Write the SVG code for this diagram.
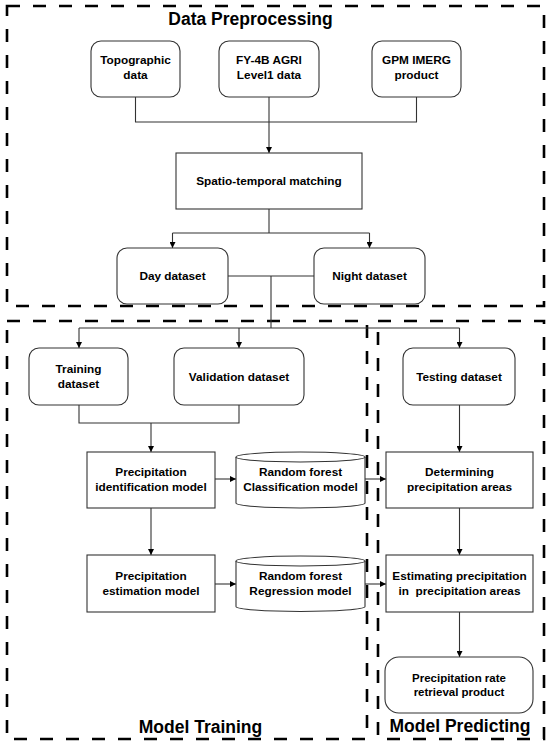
<svg xmlns="http://www.w3.org/2000/svg" width="550" height="747" viewBox="0 0 550 747">
<defs>
<style>
.frame{fill:none;stroke:#000;stroke-width:2.6;stroke-dasharray:13 13}
.box{fill:#fff;stroke:#333;stroke-width:1.1}
.t{font-family:"Liberation Sans",Arial,sans-serif;font-weight:bold;font-size:11.8px;fill:#000;text-anchor:middle}
.title{font-family:"Liberation Sans",Arial,sans-serif;font-weight:bold;font-size:17.5px;fill:#000;text-anchor:middle}
.c{fill:none;stroke:#333;stroke-width:1.1}
</style>
<marker id="ah" viewBox="0 0 10 10" refX="10" refY="5" markerWidth="6" markerHeight="6" markerUnits="userSpaceOnUse" orient="auto">
<path d="M0,0 L10,5 L0,10 z" fill="#000"/>
</marker>
</defs>
<rect width="550" height="747" fill="#fff"/>

<g id="frames">
<rect class="frame" x="7" y="6" width="537" height="300"/>
<rect class="frame" x="7" y="321" width="360" height="418"/>
<rect class="frame" x="378" y="321" width="166" height="418"/>
<text class="title" x="250.5" y="25">Data Preprocessing</text>
<text class="title" x="200.5" y="732.5">Model Training</text>
<text class="title" x="460" y="732">Model Predicting</text>
</g>

<g id="connectors">
<path class="c" d="M135.5,97 V122 H416.5 V97"/>
<path class="c" d="M269,97 V153" marker-end="url(#ah)"/>
<path class="c" d="M269,209 V233"/>
<path class="c" d="M172.5,233 H369.5"/>
<path class="c" d="M172.5,233 V248" marker-end="url(#ah)"/>
<path class="c" d="M369.5,233 V248" marker-end="url(#ah)"/>
<path class="c" d="M228,276 H314"/>
<path class="c" d="M271,276 V328"/>
<path class="c" d="M79,328 H459.5"/>
<path class="c" d="M79,328 V348" marker-end="url(#ah)"/>
<path class="c" d="M239,328 V348" marker-end="url(#ah)"/>
<path class="c" d="M459.5,328 V348" marker-end="url(#ah)"/>
<path class="c" d="M79,405 V423 H239 V405"/>
<path class="c" d="M151,423 V452" marker-end="url(#ah)"/>
<path class="c" d="M459.5,405 V452" marker-end="url(#ah)"/>
<path class="c" d="M215,479 H236" marker-end="url(#ah)"/>
<path class="c" d="M365,479 H386" marker-end="url(#ah)"/>
<path class="c" d="M151,508 V555" marker-end="url(#ah)"/>
<path class="c" d="M459.5,508 V555" marker-end="url(#ah)"/>
<path class="c" d="M215,584 H236" marker-end="url(#ah)"/>
<path class="c" d="M365,584 H386" marker-end="url(#ah)"/>
<path class="c" d="M459.5,612 V657" marker-end="url(#ah)"/>
</g>

<g id="topographic">
<rect class="box" x="91" y="41" width="89" height="56" rx="10"/>
<text class="t" x="135.5" y="64">Topographic</text>
<text class="t" x="135.5" y="79">data</text>
</g>
<g id="fy4b">
<rect class="box" x="219" y="41" width="100" height="56" rx="10"/>
<text class="t" x="269" y="64">FY-4B AGRI</text>
<text class="t" x="269" y="79">Level1 data</text>
</g>
<g id="gpm">
<rect class="box" x="372" y="41" width="89" height="56" rx="10"/>
<text class="t" x="416.5" y="64">GPM IMERG</text>
<text class="t" x="416.5" y="79">product</text>
</g>
<g id="spatio">
<rect class="box" x="176" y="153" width="186" height="56"/>
<text class="t" x="269" y="185">Spatio-temporal matching</text>
</g>
<g id="day">
<rect class="box" x="117" y="248" width="111" height="56" rx="10"/>
<text class="t" x="172.5" y="280">Day dataset</text>
</g>
<g id="night">
<rect class="box" x="314" y="248" width="111" height="56" rx="10"/>
<text class="t" x="369.5" y="280">Night dataset</text>
</g>
<g id="training">
<rect class="box" x="29" y="348" width="99" height="57" rx="10"/>
<text class="t" x="78.5" y="373">Training</text>
<text class="t" x="78.5" y="387.5">dataset</text>
</g>
<g id="validation">
<rect class="box" x="174" y="348" width="130" height="57" rx="10"/>
<text class="t" x="239" y="380.5">Validation dataset</text>
</g>
<g id="testing">
<rect class="box" x="403" y="348" width="112" height="57" rx="10"/>
<text class="t" x="459" y="380.5">Testing dataset</text>
</g>
<g id="precip-id">
<rect class="box" x="87" y="452" width="128" height="56"/>
<text class="t" x="151" y="476">Precipitation</text>
<text class="t" x="151" y="490.5">identification model</text>
</g>
<g id="rf-class">
<path class="box" d="M236,457 V503 A64.5,5 0 0 0 365,503 V457"/>
<ellipse class="box" cx="300.5" cy="457" rx="64.5" ry="5"/>
<text class="t" x="300.5" y="476">Random forest</text>
<text class="t" x="300.5" y="490.5">Classification model</text>
</g>
<g id="determining">
<rect class="box" x="386" y="452" width="147" height="56"/>
<text class="t" x="459.5" y="476">Determining</text>
<text class="t" x="459.5" y="490.5">precipitation areas</text>
</g>
<g id="precip-est">
<rect class="box" x="87" y="555" width="128" height="57"/>
<text class="t" x="151" y="580">Precipitation</text>
<text class="t" x="151" y="594.5">estimation model</text>
</g>
<g id="rf-reg">
<path class="box" d="M236,561 V606.5 A64.5,5 0 0 0 365,606.5 V561"/>
<ellipse class="box" cx="300.5" cy="561" rx="64.5" ry="5"/>
<text class="t" x="300.5" y="580">Random forest</text>
<text class="t" x="300.5" y="594.5">Regression model</text>
</g>
<g id="estimating">
<rect class="box" x="386" y="555" width="147" height="57"/>
<text class="t" x="459.5" y="580">Estimating precipitation</text>
<text class="t" x="459.5" y="594.5" xml:space="preserve">in  precipitation areas</text>
</g>
<g id="product">
<rect class="box" x="385" y="657" width="148" height="56" rx="14"/>
<text class="t" x="459" y="681.5" style="font-size:11.5px">Precipitation rate</text>
<text class="t" x="459" y="695.5" style="font-size:11.5px">retrieval product</text>
</g>
</svg>
